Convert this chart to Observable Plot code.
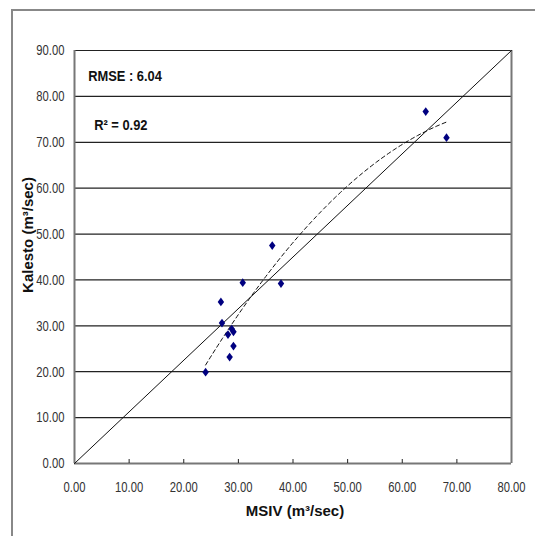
<!DOCTYPE html>
<html><head><meta charset="utf-8">
<script src="https://cdn.jsdelivr.net/npm/d3@7"></script>
<script src="https://cdn.jsdelivr.net/npm/@observablehq/plot@0.6"></script>
<style>body{margin:0;background:#fff;}</style>
</head><body><div id="chart"></div>
<script>
// Observed pairs
const msiv    = [30.8, 37.8, 26.8, 27.0, 28.8, 29.1, 28.1, 29.1, 28.4, 24.0, 36.2, 64.3, 68.1];
const kalesto = [39.4, 39.2, 35.2, 30.6, 29.3, 28.7, 28.1, 25.6, 23.2, 19.9, 47.5, 76.7, 71.0];
// Reference diagonal
const diagX = [0, 80];
const diagY = [0, 90];
// Ticks
const xTicks = [0, 10, 20, 30, 40, 50, 60, 70, 80];
const yTicks = [0, 10, 20, 30, 40, 50, 60, 70, 80, 90];
// Annotations
const statLabels = ["RMSE : 6.04", "R\u00B2 = 0.92"];
const statX = [2.5, 3.6];
const statY = [84.3, 73.8];

const points = msiv.map((x, i) => ({x, y: kalesto[i]}));
const diag = diagX.map((x, i) => ({x, y: diagY[i]}));
const stats = statLabels.map((t, i) => ({t, x: statX[i], y: statY[i]}));

// Polynomial (2nd order) least-squares trendline computed from the data
function quadFit(xs, ys) {
  let S = [0,0,0,0,0], T = [0,0,0];
  xs.forEach((x, i) => {
    let p = 1;
    for (let k = 0; k < 5; k++) { S[k] += p; if (k < 3) T[k] += p * ys[i]; p *= x; }
  });
  const A = [[S[0],S[1],S[2],T[0]],[S[1],S[2],S[3],T[1]],[S[2],S[3],S[4],T[2]]];
  for (let c = 0; c < 3; c++) {
    for (let r = c + 1; r < 3; r++) {
      const f = A[r][c] / A[c][c];
      for (let k = c; k < 4; k++) A[r][k] -= f * A[c][k];
    }
  }
  const b = [0,0,0];
  for (let r = 2; r >= 0; r--) {
    let s = A[r][3];
    for (let k = r + 1; k < 3; k++) s -= A[r][k] * b[k];
    b[r] = s / A[r][r];
  }
  return b;
}
const coef = quadFit(msiv, kalesto);
const xmin = d3.min(msiv), xmax = d3.max(msiv);
const trend = d3.range(0, 101).map(i => {
  const x = xmin + (xmax - xmin) * i / 100;
  return {x, y: coef[0] + coef[1] * x + coef[2] * x * x};
});

// Slightly tall diamond marker (Excel style)
const tallDiamond = {
  draw(context, size) {
    const s = Math.sqrt(size / Math.PI);
    const w = s * 0.85, h = s * 1.15;
    context.moveTo(0, -h); context.lineTo(w, 0); context.lineTo(0, h); context.lineTo(-w, 0); context.closePath();
  }
};

const fmt = d3.format(".2f");
const sans = "'Liberation Sans', Arial, sans-serif";

const plot = Plot.plot({
  width: 535, height: 536,
  marginLeft: 74, marginRight: 24, marginTop: 50, marginBottom: 73,
  style: {fontFamily: sans, fontSize: "15px", color: "#222", background: "#fff"},
  x: {domain: [0, 80]},
  y: {domain: [0, 90]},
  marks: [
    Plot.ruleY(yTicks.slice(1), {stroke: "#222", strokeWidth: 1.2}),
    Plot.ruleX([0, 80], {stroke: "#777", strokeWidth: 2}),
    Plot.ruleY([0], {stroke: "#777", strokeWidth: 2}),
    Plot.axisY({ticks: yTicks, tickSize: 0, tickPadding: 10, tickFormat: fmt, label: null, fill: "#333", fontSize: 15}),
    Plot.axisX({ticks: xTicks, tickSize: 0, tickPadding: 18, tickFormat: fmt, label: null, fill: "#333", fontSize: 15}),
    Plot.axisX({ticks: xTicks.slice(1, -1), tickSize: -4, tickFormat: () => "", label: null, stroke: "#222"}),
    Plot.line(diag, {x: "x", y: "y", stroke: "#111", strokeWidth: 1}),
    Plot.line(trend, {x: "x", y: "y", stroke: "#111", strokeWidth: 1, strokeDasharray: "4,3"}),
    Plot.dot(points, {x: "x", y: "y", symbol: tallDiamond, r: 3.8, fill: "#000080", stroke: "none"}),
    Plot.text(stats, {x: "x", y: "y", text: "t", textAnchor: "start", fontWeight: "bold", fontSize: 15, fill: "#111"}),
    Plot.text(["Kalesto (m\u00B3/sec)"], {frameAnchor: "left", textAnchor: "middle", lineAnchor: "middle", dx: -46, dy: -22, rotate: -90, fontWeight: "bold", fontSize: 15, fill: "#111"}),
    Plot.text(["MSIV (m\u00B3/sec)"], {frameAnchor: "bottom", textAnchor: "middle", lineAnchor: "middle", dx: 2, dy: 48, fontWeight: "bold", fontSize: 15, fill: "#111"})
  ]
});
// Narrow the tick labels and stat labels horizontally (condensed look of the original)
d3.select(plot).selectAll("text")
  .filter(function() { return /^\d+\.\d\d$/.test(this.textContent); })
  .attr("transform", function() { return (this.getAttribute("transform") || "") + " scale(0.75,1)"; });
d3.select(plot).selectAll("text")
  .filter(function() { return /RMSE|R\u00B2/.test(this.textContent); })
  .attr("transform", function() { return (this.getAttribute("transform") || "") + " scale(0.86,1)"; });
d3.select(plot).insert("rect", ":first-child")
  .attr("x", 12).attr("y", 10).attr("width", 600).attr("height", 600)
  .attr("fill", "none").attr("stroke", "#888").attr("stroke-width", 2);
document.getElementById("chart").append(plot);
</script>
</body></html>
